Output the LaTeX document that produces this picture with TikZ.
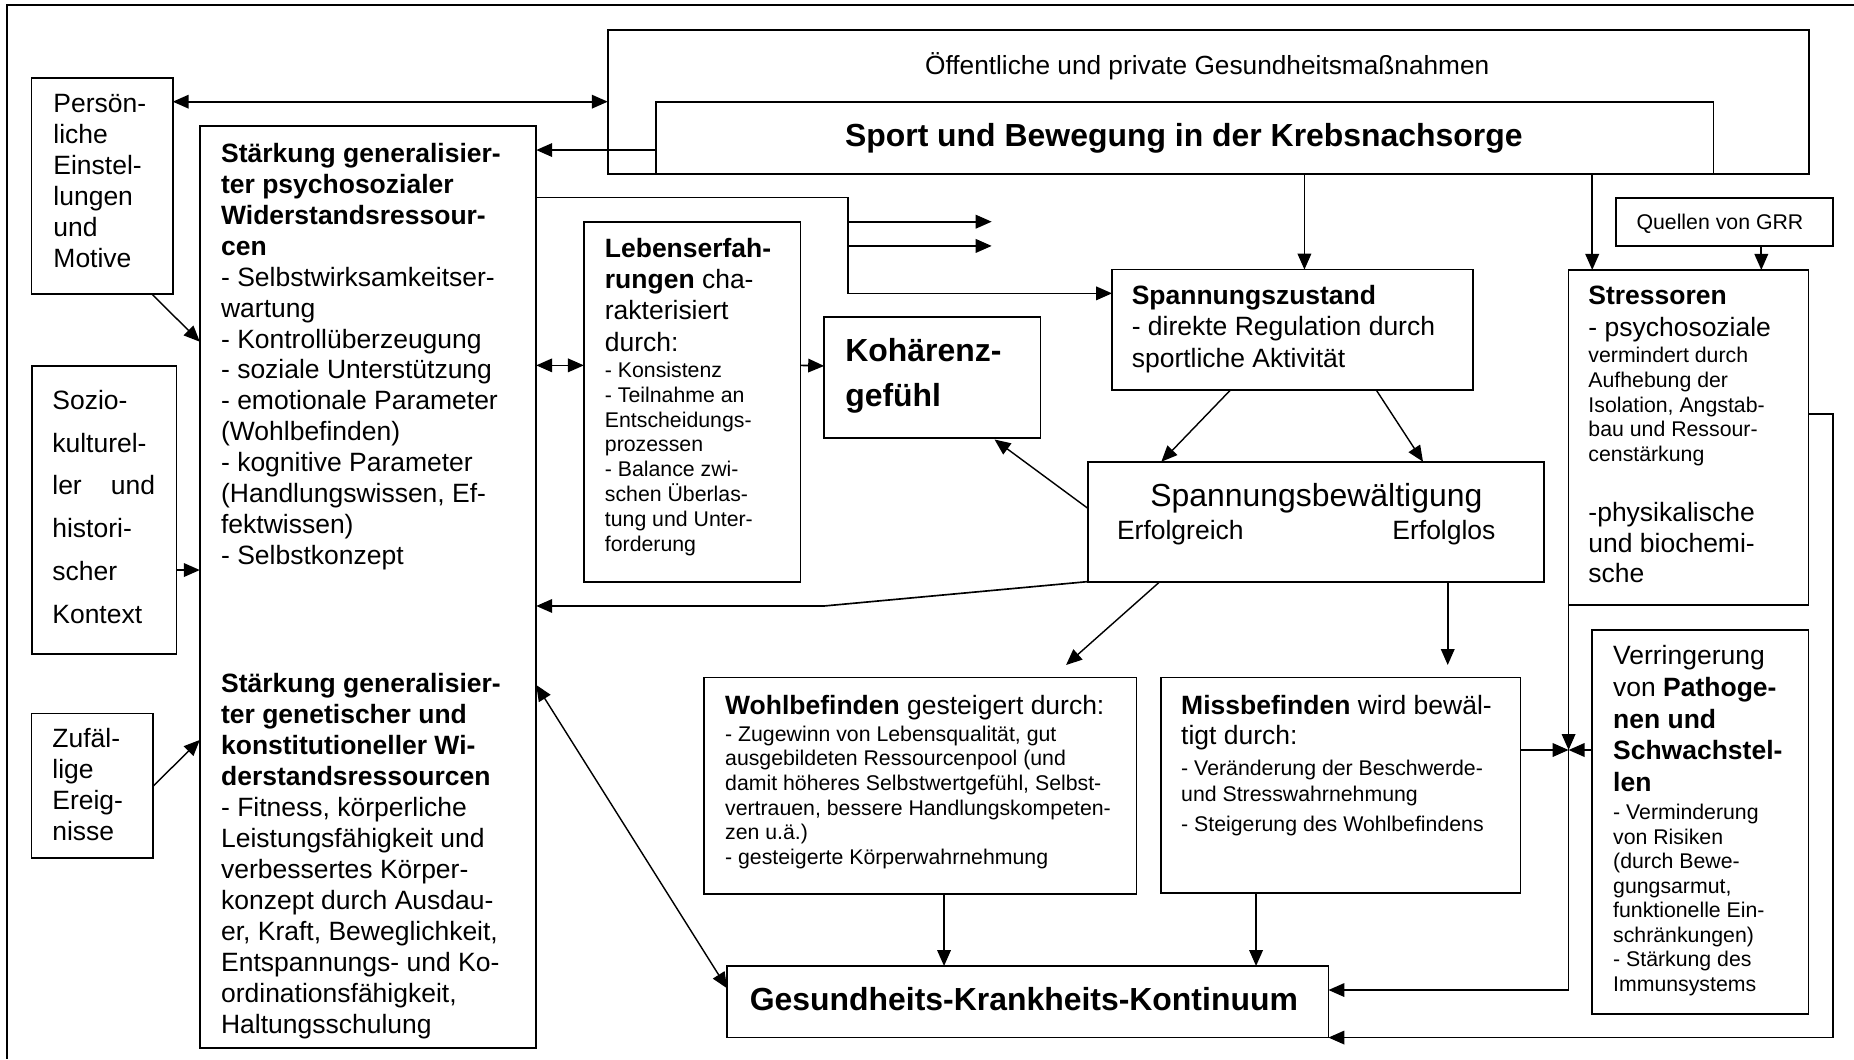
\documentclass[tikz,border=0pt]{standalone}
\usepackage{fontspec}
\setmainfont{Liberation Sans}
\usetikzlibrary{arrows.meta}
\newcommand{\myl}[1]{\hbox{#1}}
\newcommand{\tb}[6]{\node[txt] (#1) at (#2,#3) {\fontsize{#4}{#5}\selectfont\vtop{#6}};}
\newcommand{\bx}[5]{\node[boxst,minimum width=#4pt,minimum height=#5pt] (#1) at (#2,#3) {};}
\begin{document}
\begin{tikzpicture}[x=1pt,y=-1pt,
  boxst/.style={draw,rectangle,line width=1.5pt,inner sep=0pt,outer sep=0pt,anchor=north west},
  txt/.style={anchor=base west,inner sep=0pt,outer sep=0pt},
  ctxt/.style={anchor=base,inner sep=0pt,outer sep=0pt},
  arr/.style={line width=1.4pt,-{Triangle[length=13.5pt,width=11.5pt]}},
  sarr/.style={line width=1.2pt,-{Triangle[length=13.5pt,width=11.5pt]}},
  darr/.style={line width=1.4pt,{Triangle[length=13.5pt,width=11.5pt]}-{Triangle[length=13.5pt,width=11.5pt]}},
  sdarr/.style={line width=1.2pt,{Triangle[length=13.5pt,width=11.5pt]}-{Triangle[length=13.5pt,width=11.5pt]}},
  frame/.style={line width=1.5pt}]
\useasboundingbox (0,0) rectangle (1568,896);
\draw[frame] (1568,4.2) -| (6,896);

% boxes
\bx{pers}{26.7}{65.7}{119.4}{182.9}
\bx{big}{169}{106.6}{284.5}{780}
\bx{sozio}{27}{309.3}{122.2}{243.8}
\bx{zuf}{26.6}{603.5}{102.5}{122.4}
\bx{oef}{514}{25.4}{1016}{121.5}
\bx{sport}{554.6}{86}{894.6}{60.9}
\bx{leb}{493.8}{187.5}{183.2}{304.5}
\bx{koh}{697}{268.4}{183}{102.3}
\bx{spz}{940.5}{228}{305}{101.8}
\bx{str}{1326.6}{228.3}{202.9}{283.4}
\bx{quel}{1366.8}{167.2}{183.2}{40.8}
\bx{spb}{920}{390.5}{385.8}{101.4}
\bx{wohl}{595.5}{573}{365.6}{183}
\bx{miss}{981.7}{573}{304.3}{182.5}
\bx{ges}{615}{817}{508.5}{60.5}
\bx{ver}{1346.3}{532.8}{183.2}{324.8}

% texts
\tb{tpers}{45.2}{95.5}{22.4}{26.2}{\myl{Persön-}\myl{liche}\myl{Einstel-}\myl{lungen}\myl{und}\myl{Motive}}
\tb{tbig1}{187}{137.8}{22.4}{26.1}{\myl{\textbf{Stärkung generalisier-}}\myl{\textbf{ter psychosozialer}}\myl{\textbf{Widerstandsressour-}}\myl{\textbf{cen}}\myl{- Selbstwirksamkeitser-}\myl{wartung}\myl{- Kontrollüberzeugung}\myl{- soziale Unterstützung}\myl{- emotionale Parameter}\myl{(Wohlbefinden)}\myl{- kognitive Parameter}\myl{(Handlungswissen, Ef-}\myl{fektwissen)}\myl{- Selbstkonzept}}
\tb{tbig2}{187}{586}{22.4}{26.15}{\myl{\textbf{Stärkung generalisier-}}\myl{\textbf{ter genetischer und}}\myl{\textbf{konstitutioneller Wi-}}\myl{\textbf{derstandsressourcen}}\myl{- Fitness, körperliche}\myl{Leistungsfähigkeit und}\myl{verbessertes Körper-}\myl{konzept durch Ausdau-}\myl{er, Kraft, Beweglichkeit,}\myl{Entspannungs- und Ko-}\myl{ordinationsfähigkeit,}\myl{Haltungsschulung}}
\tb{tsozio}{44.3}{346.4}{22.4}{36.1}{\myl{Sozio-}\myl{kulturel-}\myl{\hbox to 86.8pt{ler\hfill und}}\myl{histori-}\myl{scher}\myl{Kontext}}
\tb{tzuf}{44.3}{632.5}{22.4}{26.2}{\myl{Zufäl-}\myl{lige}\myl{Ereig-}\myl{nisse}}
\node[ctxt,font=\fontsize{22.2}{26}\selectfont] (toef) at (1021,63) {Öffentliche und private Gesundheitsmaßnahmen};
\node[ctxt,font=\fontsize{27}{32}\selectfont\bfseries] (tsport) at (1001.2,124) {Sport und Bewegung in der Krebsnachsorge};
\tb{tleb1}{511.6}{218}{22.4}{26.3}{\myl{\textbf{Lebenserfah-}}\myl{\textbf{rungen} cha-}\myl{rakterisiert}\myl{durch:}}
\tb{tleb2}{511.6}{319.2}{18}{21}{\myl{- Konsistenz}\myl{- Teilnahme an}\myl{Entscheidungs-}\myl{prozessen}\myl{- Balance zwi-}\myl{schen Überlas-}\myl{tung und Unter-}\myl{forderung}}
\tb{tkoh}{714.9}{305.5}{27}{38.1}{\myl{\textbf{Kohärenz-}}\myl{\textbf{gefühl}}}
\tb{tspz}{957.2}{257.6}{22.4}{26.5}{\myl{\textbf{Spannungszustand}}\myl{- direkte Regulation durch}\myl{sportliche Aktivität}}
\tb{tstr1}{1343.4}{257.6}{22.4}{26.8}{\myl{\textbf{Stressoren}}\myl{- psychosoziale}}
\tb{tstr2}{1343.4}{307}{18}{20.8}{\myl{vermindert durch}\myl{Aufhebung der}\myl{Isolation, Angstab-}\myl{bau und Ressour-}\myl{censtärkung}}
\tb{tstr3}{1343.4}{440.8}{22.4}{26.1}{\myl{-physikalische}\myl{und biochemi-}\myl{sche}}
\node[ctxt,font=\fontsize{18}{21}\selectfont] (tquel) at (1454.6,193.7) {Quellen von GRR};
\node[ctxt,font=\fontsize{27}{32}\selectfont] (tspb) at (1113.3,428) {Spannungsbewältigung};
\node[txt,font=\fontsize{22.4}{26}\selectfont] (terf1) at (944.7,456.3) {Erfolgreich};
\node[txt,font=\fontsize{22.4}{26}\selectfont] (terf2) at (1177.6,456.3) {Erfolglos};
\tb{twohl1}{613.3}{604.4}{22.4}{26}{\myl{\textbf{Wohlbefinden} gesteigert durch:}}
\tb{twohl2}{613.3}{627}{18}{20.76}{\myl{- Zugewinn von Lebensqualität, gut}\myl{ausgebildeten Ressourcenpool (und}\myl{damit höheres Selbstwertgefühl, Selbst-}\myl{vertrauen, bessere Handlungskompeten-}\myl{zen u.ä.)}\myl{- gesteigerte Körperwahrnehmung}}
\tb{tmiss1}{999}{604.4}{22.4}{25.3}{\myl{\textbf{Missbefinden} wird bewäl-}\myl{tigt durch:}}
\tb{tmiss2}{999}{656}{18}{21.8}{\myl{- Veränderung der Beschwerde-}\myl{und Stresswahrnehmung}}
\tb{tmiss3}{999}{703.1}{18}{21}{\myl{- Steigerung des Wohlbefindens}}
\tb{tver1}{1364.3}{562.1}{22.4}{26.8}{\myl{Verringerung}\myl{von \textbf{Pathoge-}}\myl{\textbf{nen und}}\myl{\textbf{Schwachstel-}}\myl{\textbf{len}}}
\tb{tver2}{1364.3}{693.3}{18}{20.73}{\myl{- Verminderung}\myl{von Risiken}\myl{(durch Bewe-}\myl{gungsarmut,}\myl{funktionelle Ein-}\myl{schränkungen)}\myl{- Stärkung des}\myl{Immunsystems}}
\node[ctxt,font=\fontsize{27}{32}\selectfont\bfseries] (tges) at (865.9,855) {Gesundheits-Krankheits-Kontinuum};

% connectors
\draw[darr] ([yshift=-20.3pt]pers.north east) -- ([yshift=-60.6pt]oef.north west);
\draw[arr] ([yshift=-40.9pt]sport.north west) -- ([yshift=-20.3pt]big.north east);
\draw[arr] ([yshift=-60.3pt]big.north east) -- ++(263.8,0) |- ([yshift=-20.1pt]spz.north west);
\coordinate (j1) at (717.3,187.5);
\coordinate (e1) at (838.7,187.5);
\coordinate (j2) at (717.3,208);
\coordinate (e2) at (838.7,208);
\draw[arr] (j1) -- (e1);
\draw[arr] (j2) -- (e2);
\draw[arr] ([xshift=162.7pt]spz.north west |- sport.south) -- ([xshift=162.7pt]spz.north west);
\draw[arr] ([xshift=20pt]str.north west |- sport.south) -- ([xshift=20pt]str.north west);
\draw[arr] ([xshift=122.8pt]quel.south west) -- ([xshift=122.8pt]quel.south west |- str.north);
\draw[darr] ([yshift=-202.4pt]big.north east) -- ([yshift=-121.5pt]leb.north west);
\draw[arr] ([yshift=-121.5pt]leb.north east) -- ([yshift=-41.1pt]koh.north west);
\draw[sarr] ([xshift=100.2pt]spz.south west) -- ([xshift=62.2pt]spb.north west);
\draw[sarr] ([xshift=223.4pt]spz.south west) -- ([xshift=283.5pt]spb.north west);
\draw[sarr] ([yshift=-39.4pt]spb.north west) -- ([xshift=144.1pt,yshift=-1pt]koh.south west);
\draw[arr] (spb.south west) -- (697,512.5) -- ([yshift=-405.9pt]big.north east);
\draw[sarr] ([xshift=61pt]spb.south west) -- ([xshift=306.1pt,yshift=10.6pt]wohl.north west);
\draw[arr] ([xshift=304.4pt]spb.south west) -- ([xshift=242.7pt,yshift=10.6pt]miss.north west);
\draw[arr] ([xshift=202.9pt]wohl.south west) -- ([xshift=202.9pt]wohl.south west |- ges.north);
\draw[arr] ([xshift=80.6pt]miss.south west) -- ([xshift=80.6pt]miss.south west |- ges.north);
\draw[sdarr] ([yshift=-472.7pt]big.north east) -- ([yshift=-18.9pt]ges.north west);
\draw[sarr] ([yshift=-0.3pt]pers.south east) ++(-17.4,0) -- ([yshift=-182.4pt]big.north west);
\draw[arr] ([yshift=-172.8pt]sozio.north east) -- ([yshift=-375.5pt]big.north west);
\draw[sarr] ([yshift=-61.8pt]zuf.north east) -- ([yshift=-519.2pt]big.north west);
\coordinate (meet) at (1326.6,634.3);
\draw[arr] (str.south west) |- ([yshift=-20.3pt]ges.north east);
\draw[arr] (str.south west) -- (meet);
\draw[arr] ([yshift=-61.3pt]miss.north east) -- (meet);
\draw[arr] ([yshift=-101.5pt]ver.north west) -- (meet);
\draw[arr] ([yshift=-121.8pt]str.north east) -- ++(20.5,0) |- (ges.south east);
\end{tikzpicture}
\end{document}
